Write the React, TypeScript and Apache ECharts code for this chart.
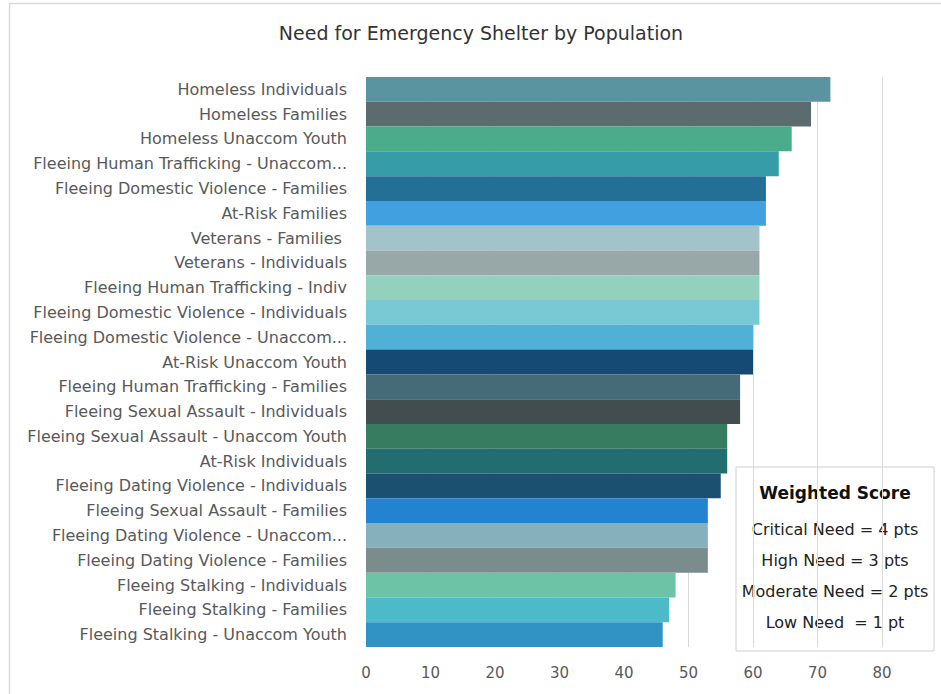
import React, { useEffect, useRef } from "react";
import * as echarts from "echarts";

const categories = [
  "Homeless Individuals",
  "Homeless Families",
  "Homeless Unaccom Youth",
  "Fleeing Human Trafficking - Unaccom...",
  "Fleeing Domestic Violence - Families",
  "At-Risk Families",
  "Veterans - Families ",
  "Veterans - Individuals",
  "Fleeing Human Trafficking - Indiv",
  "Fleeing Domestic Violence - Individuals",
  "Fleeing Domestic Violence - Unaccom...",
  "At-Risk Unaccom Youth",
  "Fleeing Human Trafficking - Families",
  "Fleeing Sexual Assault - Individuals",
  "Fleeing Sexual Assault - Unaccom Youth",
  "At-Risk Individuals",
  "Fleeing Dating Violence - Individuals",
  "Fleeing Sexual Assault - Families",
  "Fleeing Dating Violence - Unaccom...",
  "Fleeing Dating Violence - Families",
  "Fleeing Stalking - Individuals",
  "Fleeing Stalking - Families",
  "Fleeing Stalking - Unaccom Youth",
];

const scores = [72, 69, 66, 64, 62, 62, 61, 61, 61, 61, 60, 60, 58, 58, 56, 56, 55, 53, 53, 53, 48, 47, 46];

const barColors = [
  "#5A94A0", "#5C6B6E", "#4AAC8A", "#369CA8", "#236F96", "#40A0E0",
  "#A3C3CB", "#98A8A8", "#94D0BE", "#78C9D3", "#50B0D6", "#154A74",
  "#446B77", "#434D4F", "#377C60", "#236C70", "#1C5070", "#2382D2",
  "#86B0BC", "#7A8C8C", "#6DC3A6", "#4DBAC8", "#3093C3",
];

const xTicks = [0, 10, 20, 30, 40, 50, 60, 70, 80];

const legendTitle = "Weighted Score";
const legendLines = [
  "Critical Need = 4 pts",
  "High Need = 3 pts",
  "Moderate Need = 2 pts",
  "Low Need  = 1 pt",
];

const FONT = "'DejaVu Sans', 'Noto Sans', sans-serif";

export default function App() {
  const ref = useRef<HTMLDivElement>(null);
  useEffect(() => {
    if (!ref.current) return;
    const chart = echarts.init(ref.current, null, { renderer: "svg" });
    const boxX = 736, boxY = 467, boxW = 198, boxH = 184;
    chart.setOption({
      animation: false,
      backgroundColor: "#ffffff",
      title: {
        text: "Need for Emergency Shelter by Population",
        left: 476,
        top: 18,
        textAlign: "center",
        textStyle: { fontFamily: FONT, fontSize: 19, fontWeight: 400, color: "#333333" },
      },
      grid: { left: 366, right: 59, top: 77, bottom: 47, containLabel: false },
      xAxis: {
        type: "value",
        min: xTicks[0],
        max: xTicks[xTicks.length - 1],
        interval: 10,
        axisLine: { show: false },
        axisTick: { show: false },
        axisLabel: { fontFamily: FONT, fontSize: 15, color: "#595959", margin: 18 },
        splitLine: { show: true, lineStyle: { color: "#d9d9d9", width: 1 } },
      },
      yAxis: {
        type: "category",
        data: categories,
        inverse: true,
        axisLine: { show: false },
        axisTick: { show: false },
        axisLabel: { fontFamily: FONT, fontSize: 16, color: "#595959", margin: 19 },
      },
      series: [
        {
          type: "bar",
          barCategoryGap: "0%",
          data: scores.map((v, i) => ({ value: v, itemStyle: { color: barColors[i] } })),
        },
      ],
      graphic: [
        {
          type: "rect",
          shape: { x: 9.5, y: 3.5, width: 960, height: 720 },
          style: { fill: "none", stroke: "#d9d9d9", lineWidth: 1.5 },
          silent: true,
        },
        {
          type: "group",
          children: [
            {
              type: "rect",
              shape: { x: boxX, y: boxY, width: boxW, height: boxH },
              style: { fill: "#ffffff", stroke: "#d0d0d0", lineWidth: 1 },
            },
            {
              type: "text",
              x: boxX + boxW / 2,
              y: 493,
              style: {
                text: legendTitle,
                fontFamily: FONT,
                fontSize: 17,
                fontWeight: 700,
                fill: "#111111",
                align: "center",
                verticalAlign: "middle",
              },
            },
            ...legendLines.map((t, i) => ({
              type: "text",
              x: boxX + boxW / 2,
              y: 529 + i * 31.3,
              style: {
                text: t,
                fontFamily: FONT,
                fontSize: 16,
                fill: "#222222",
                align: "center",
                verticalAlign: "middle",
              },
            })),
          ],
        },
      ],
    });
    return () => chart.dispose();
  }, []);
  return (
    <div
      ref={ref}
      style={{ position: "absolute", left: 0, top: 0, width: 941, height: 694 }}
    />
  );
}
